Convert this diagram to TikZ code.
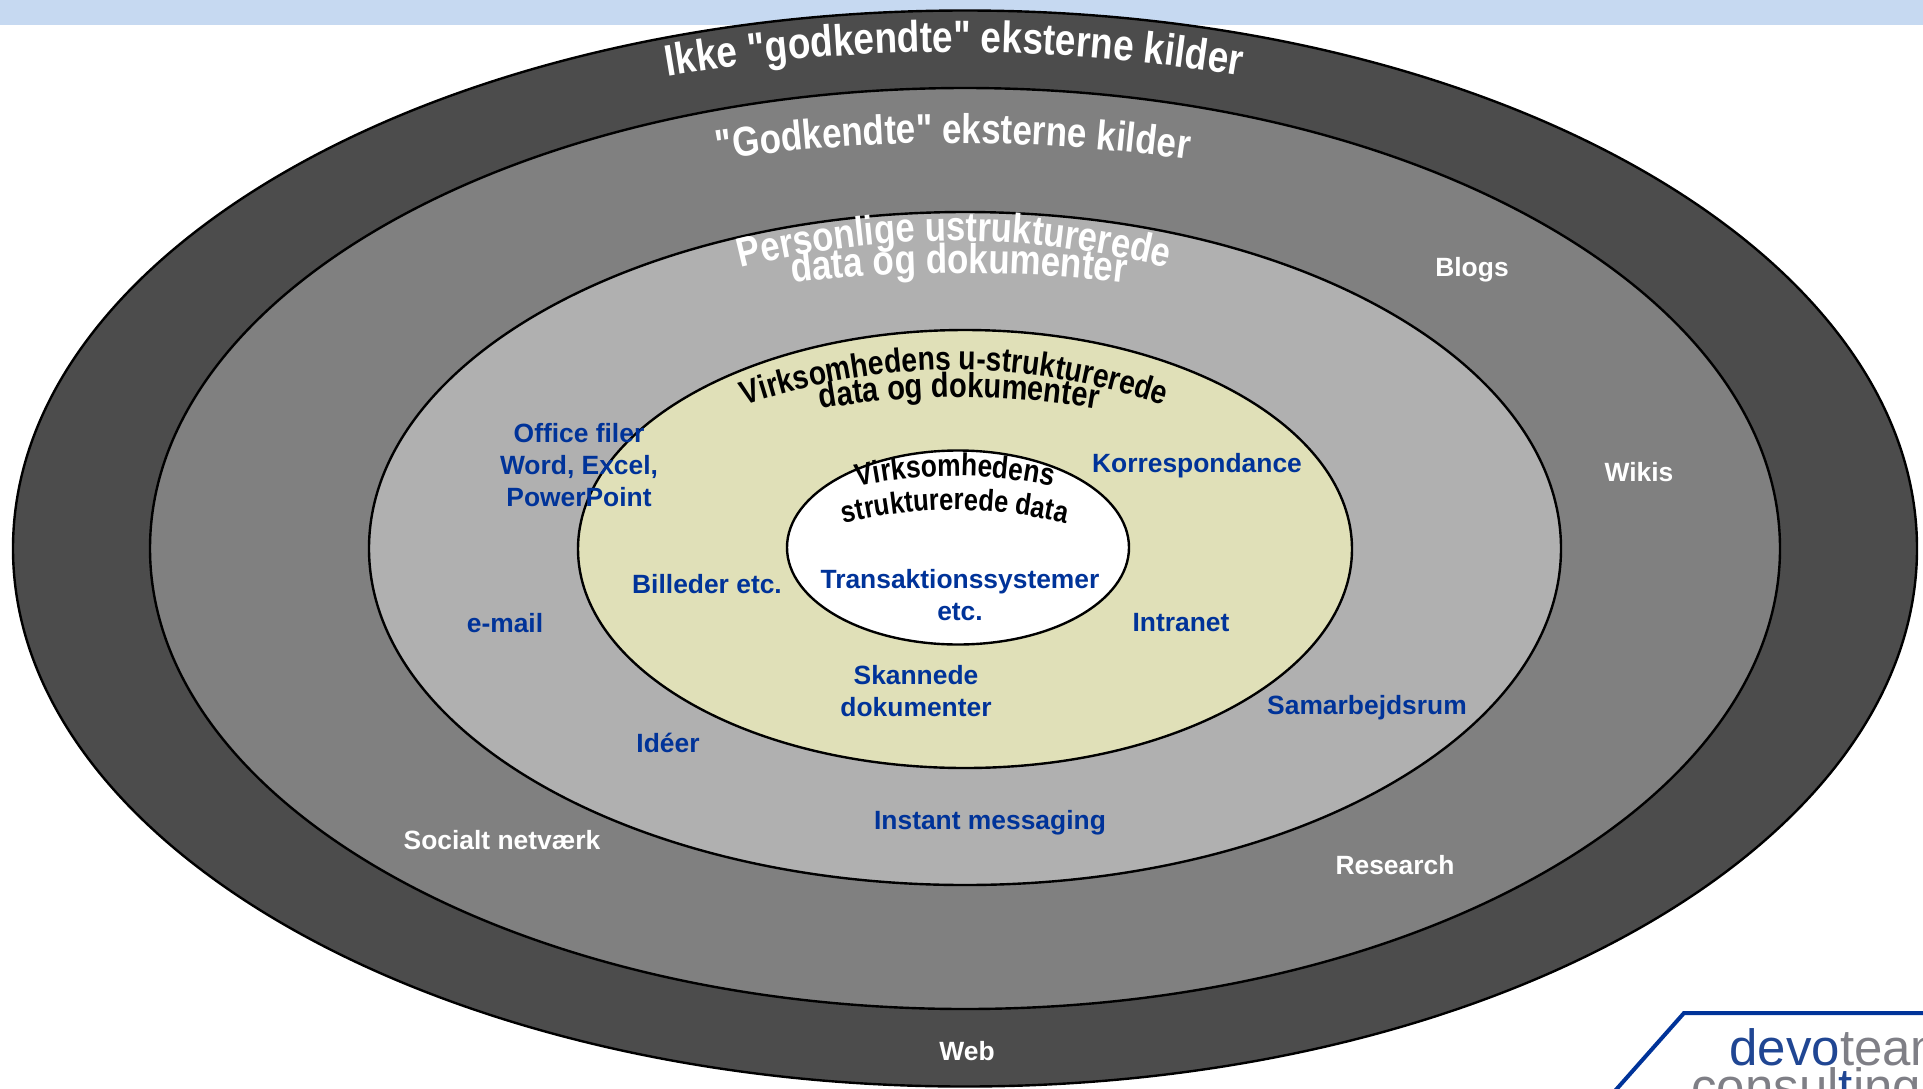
\documentclass[tikz,border=0pt]{standalone}
\usepackage{fontspec}
\setmainfont{Liberation Sans}[Ligatures=TeXOff]
\newfontfamily\archfont{Liberation Sans}[Ligatures=TeXOff,BoldFeatures={FakeStretch=0.84}]
\usetikzlibrary{decorations.text}
\definecolor{topband}{HTML}{C6D9F1}
\definecolor{deepblue}{HTML}{003399}
\definecolor{oliveish}{HTML}{E0E0B8}
\definecolor{logogray}{HTML}{7F7F86}
\newcommand{\archline}[7]{%
  \path[decorate,decoration={text along path,text align=center,
      text={|\archfont\fontsize{#5}{#5}\selectfont\bfseries\color{#6}|#7}}]
    (#1-#3,#2+#4) .. controls (#1-#3/3,#2-#4/3) and (#1+#3/3,#2-#4/3) .. (#1+#3,#2+#4);}
\begin{document}
\begin{tikzpicture}
  [x=0.5pt,y=-0.5pt,
   ring/.style={draw=black,line width=1.2pt},
   item/.style={font=\fontsize{13.2}{16}\selectfont\bfseries,align=center,inner sep=0pt},
   blueitem/.style={item,text=deepblue},
   whiteitem/.style={item,text=white},
   logotext/.style={font=\fontsize{25.5}{25.5}\selectfont,inner sep=0pt,anchor=base west}]
  \useasboundingbox (0,0) rectangle (1923,1088);
  \fill[topband] (0,0) rectangle (1923,25);
  % rings, outside in
  \draw[ring,fill=black!70] (965,548.5) ellipse [x radius=952,y radius=538];
  \draw[ring,fill=black!50] (965,548.5) ellipse [x radius=815,y radius=460.5];
  \draw[ring,fill=black!31] (965,548.5) ellipse [x radius=596,y radius=336.5];
  \draw[ring,fill=oliveish] (965,549) ellipse [x radius=387,y radius=219];
  \draw[ring,fill=white] (958,547.5) ellipse [x radius=171,y radius=97];
  % arched headings
  \archline{954}{52}{400}{47}{22}{white}{Ikke "godkendte" eksterne kilder}
  \archline{953}{143}{340}{35}{20.8}{white}{"Godkendte" eksterne kilder}
  \archline{954}{241}{300}{53}{20.6}{white}{Personlige ustrukturerede}
  \archline{959}{273}{240}{20}{20.8}{white}{data og dokumenter}
  \archline{954}{370}{300}{73}{16.8}{black}{Virksomhedens u-strukturerede}
  \archline{959}{397}{200}{25}{17.3}{black}{data og dokumenter}
  \archline{955}{476}{150}{25}{15.7}{black}{Virksomhedens}
  \archline{955}{510}{170}{32}{15.2}{black}{strukturerede data}
  % labels
  \node[whiteitem] (blogs) at (1472,270) {Blogs};
  \node[whiteitem] (wikis) at (1639,472) {Wikis};
  \node[whiteitem] (web) at (967,1051) {Web};
  \node[whiteitem] (research) at (1395,865) {Research};
  \node[whiteitem] (socialt) at (502,840) {Socialt netværk};
  \node[blueitem] (instant) at (990,823) {Instant messaging};
  \node[blueitem] (ideer) at (668,743) {Idéer};
  \node[blueitem] (samarbejd) at (1367,708) {Samarbejdsrum};
  \node[blueitem] (skannede) at (916,691) {Skannede\\dokumenter};
  \node[blueitem] (intranet) at (1181,623) {Intranet};
  \node[blueitem] (korresp) at (1197,466) {Korrespondance};
  \node[blueitem] (transakt) at (960,595) {Transaktionssystemer\\etc.};
  \node[blueitem] (billeder) at (707,584) {Billeder etc.};
  \node[blueitem] (email) at (505,623) {e-mail};
  \node[blueitem] (office) at (579,465) {Office filer\\Word, Excel,\\PowerPoint};
  % logo in the corner
  \coordinate (logoright) at (1923,1013);
  \coordinate (logocorner) at (1684,1013);
  \coordinate (logofoot) at (1614,1092);
  \draw[deepblue,line width=2pt] (logoright) -- (logocorner) -- (logofoot);
  \node[logotext,text=logogray] (devoteam) at (1729,1065) {\textcolor{deepblue!75!gray}{devo}team};
  \node[logotext,text=logogray] (consulting) at (1691,1104) {consul\textcolor{deepblue!75!gray}{t}ing};
\end{tikzpicture}
\end{document}
